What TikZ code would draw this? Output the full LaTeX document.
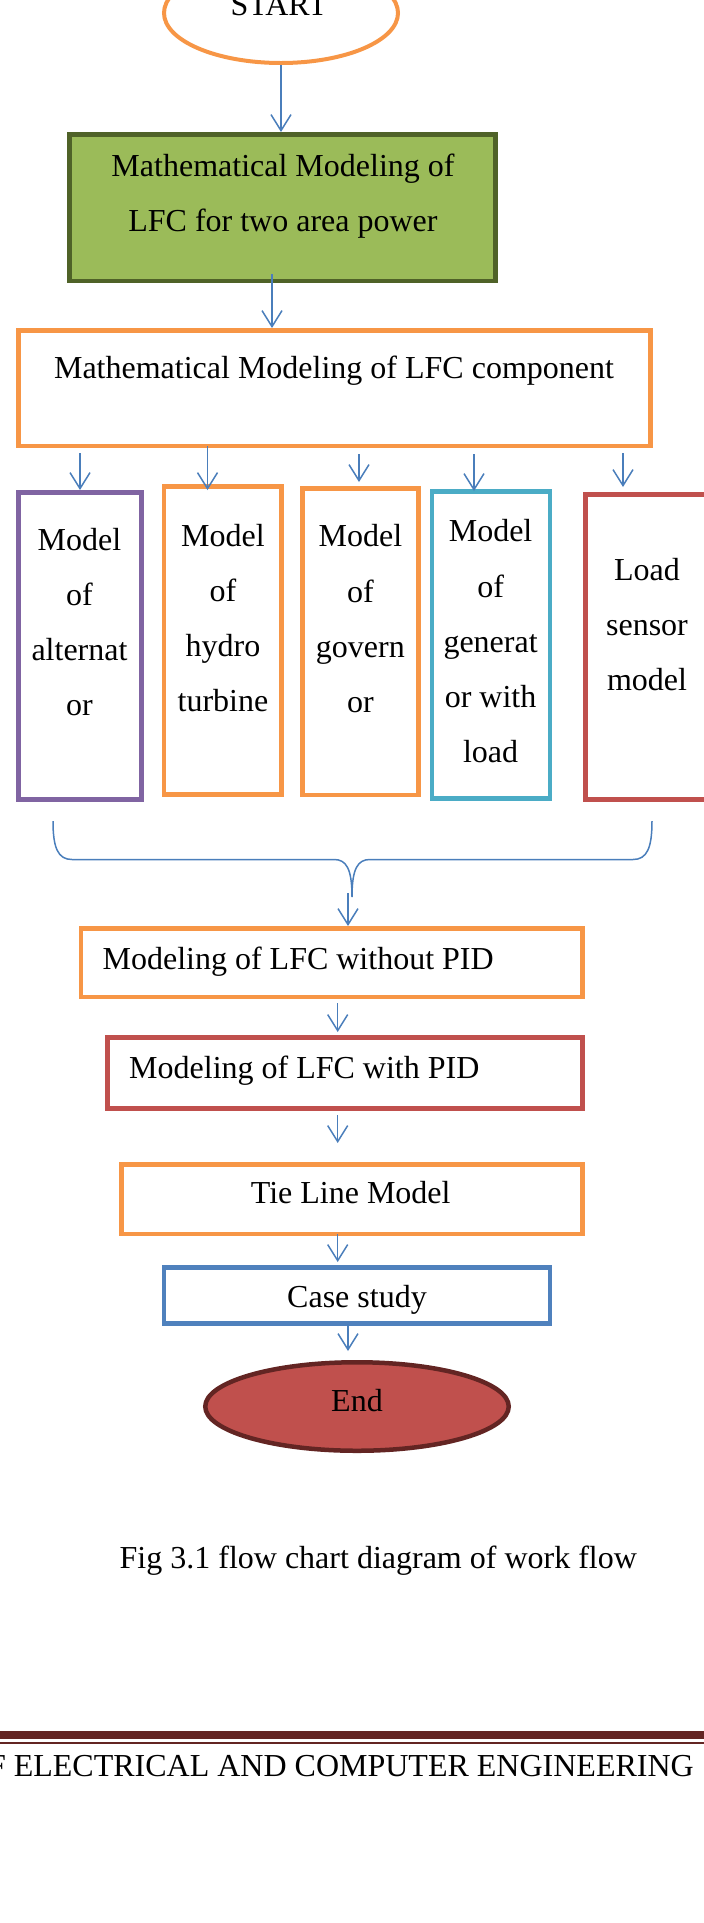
\documentclass[tikz,border=0pt]{standalone}
\usepackage{fontspec}
\setmainfont{Liberation Serif}
\usetikzlibrary{arrows.meta,shapes.geometric}
\definecolor{orangeB}{HTML}{F79646}
\definecolor{greenF}{HTML}{9BBB59}
\definecolor{greenD}{HTML}{4F6228}
\definecolor{purpleB}{HTML}{8064A2}
\definecolor{tealB}{HTML}{4BACC6}
\definecolor{redB}{HTML}{C0504D}
\definecolor{blueB}{HTML}{4F81BD}
\definecolor{darkRed}{HTML}{632523}
\definecolor{arrowBlue}{HTML}{4A7EBB}
\begin{document}
\begin{tikzpicture}[x=1pt,y=-1pt,
  box/.style={draw=#1,line width=4.5pt,rectangle,inner sep=0pt,fill=white},
  txt/.style={inner sep=0pt,font=\fontsize{32pt}{55.3pt}\selectfont,anchor=base,text=black},
  arr/.style={draw=arrowBlue,line width=1.5pt,-{Straight Barb[length=16pt,width=20pt]}},
  brace/.style={draw=arrowBlue,line width=1.5pt}
]
\useasboundingbox (0,0) rectangle (704,1923);

% Start
\node[ellipse,draw=orangeB,line width=4pt,minimum width=234pt,minimum height=100pt,inner sep=0pt] (start) at (281,13) {};
\node[txt] (startT) at (279,15) {START};

% Green box
\node[box=greenD,fill=greenF,minimum width=426pt,minimum height=146.5pt] (green) at (282.25,207.5) {};
\node[txt] (greenT) at (283,176) {\begin{tabular}[t]{@{}c@{}}Mathematical Modeling of\\LFC for two area power\end{tabular}};

% Component box
\node[box=orangeB,minimum width=632pt,minimum height=115.5pt] (comp) at (334.25,388) {};
\node[txt] (compT) at (334,378.3) {Mathematical Modeling of LFC component};

% Five model boxes
\node[box=purpleB,minimum width=123.2pt,minimum height=307.2pt] (A) at (79.85,645.85) {};
\node[box=orangeB,minimum width=117.7pt,minimum height=308.2pt] (B) at (222.7,640.35) {};
\node[box=orangeB,minimum width=116.2pt,minimum height=306.5pt] (C) at (360.35,641.5) {};
\node[box=tealB,minimum width=118.1pt,minimum height=307.2pt] (D) at (491,644.85) {};
\node[box=redB,minimum width=123pt,minimum height=305.2pt] (E) at (647,646.85) {};

\node[txt] (AT) at (79.5,550) {\begin{tabular}[t]{@{}c@{}}Model\\of\\alternat\\or\end{tabular}};
\node[txt] (BT) at (223,546) {\begin{tabular}[t]{@{}c@{}}Model\\of\\hydro\\turbine\end{tabular}};
\node[txt] (CT) at (360.4,546.7) {\begin{tabular}[t]{@{}c@{}}Model\\of\\govern\\or\end{tabular}};
\node[txt] (DT) at (490.6,541.7) {\begin{tabular}[t]{@{}c@{}}Model\\of\\generat\\or with\\load\end{tabular}};
\node[txt] (ET) at (647,580) {\begin{tabular}[t]{@{}c@{}}Load\\sensor\\model\end{tabular}};

% Lower boxes
\node[box=orangeB,minimum width=501.5pt,minimum height=68.5pt] (wo) at (331.6,962.5) {};
\node[txt,anchor=base west] (woT) at (102.4,969) {Modeling of LFC without PID};
\node[box=redB,minimum width=474.6pt,minimum height=71.2pt] (wi) at (345,1072.85) {};
\node[txt,anchor=base west] (wiT) at (129,1078) {Modeling of LFC with PID};
\node[box=orangeB,minimum width=461.1pt,minimum height=69.5pt] (tie) at (351.8,1199) {};
\node[txt] (tieT) at (350.7,1203) {Tie Line Model};
\node[box=blueB,minimum width=386.2pt,minimum height=56.2pt] (case) at (357,1295.35) {};
\node[txt] (caseT) at (357,1307) {Case study};

% End
\node[ellipse,draw=darkRed,fill=redB,line width=4.5pt,minimum width=303.5pt,minimum height=88.5pt,inner sep=0pt] (endE) at (357,1406.5) {};
\node[txt] (endT) at (357,1411.7) {End};

% Caption
\node[txt] (cap) at (378.3,1568.5) {Fig 3.1 flow chart diagram of work flow};

% Footer
\fill[darkRed] (-5,1731) rectangle (710,1739);
\fill[darkRed] (-5,1741.5) rectangle (710,1743.5);
\node[txt,anchor=base east] (foot) at (694,1776) {F ELECTRICAL AND COMPUTER ENGINEERING};

% Connectors
\draw[arr] (start.south) -- (start.south |- green.north);
\coordinate (g1) at (272,274);
\draw[arr] (g1) -- (g1 |- comp.north);

\coordinate (cAs) at (80,453);   \coordinate (cAe) at (80,490);
\coordinate (cBs) at (207.5,446); \coordinate (cBe) at (207.5,490);
\coordinate (cCs) at (359,454);  \coordinate (cCe) at (359,482);
\coordinate (cDs) at (474,454);  \coordinate (cDe) at (474,491);
\coordinate (cEs) at (623,453);  \coordinate (cEe) at (623,487);
\draw[arr] (cAs) -- (cAe);
\draw[arr] (cBs) -- (cBe);
\draw[arr] (cCs) -- (cCe);
\draw[arr] (cDs) -- (cDe);
\draw[arr] (cEs) -- (cEe);

% Brace
\coordinate (brL) at (53,821);
\coordinate (brT) at (352,897);
\coordinate (brR) at (652,821);
\draw[brace] (brL) .. controls (53,848) and (58,859.5) .. (72,859.5) -- (334,859.5)
  .. controls (346,859.5) and (352,868) .. (brT)
  .. controls (352,868) and (358,859.5) .. (370,859.5) -- (633,859.5)
  .. controls (647,859.5) and (652,848) .. (brR);

\coordinate (bA) at (348,893);
\draw[arr] (bA) -- (bA |- wo.north);

\coordinate (w1s) at (337.7,1003); \coordinate (w1e) at (337.7,1032);
\draw[arr] (w1s) -- (w1e);
\coordinate (w2s) at (337.7,1115); \coordinate (w2e) at (337.7,1143);
\draw[arr] (w2s) -- (w2e);
\coordinate (w3s) at (337.7,1234); \coordinate (w3e) at (337.7,1262);
\draw[arr] (w3s) -- (w3e);
\coordinate (w4s) at (348,1324); \coordinate (w4e) at (348,1351);
\draw[arr] (w4s) -- (w4e);
\end{tikzpicture}
\end{document}
